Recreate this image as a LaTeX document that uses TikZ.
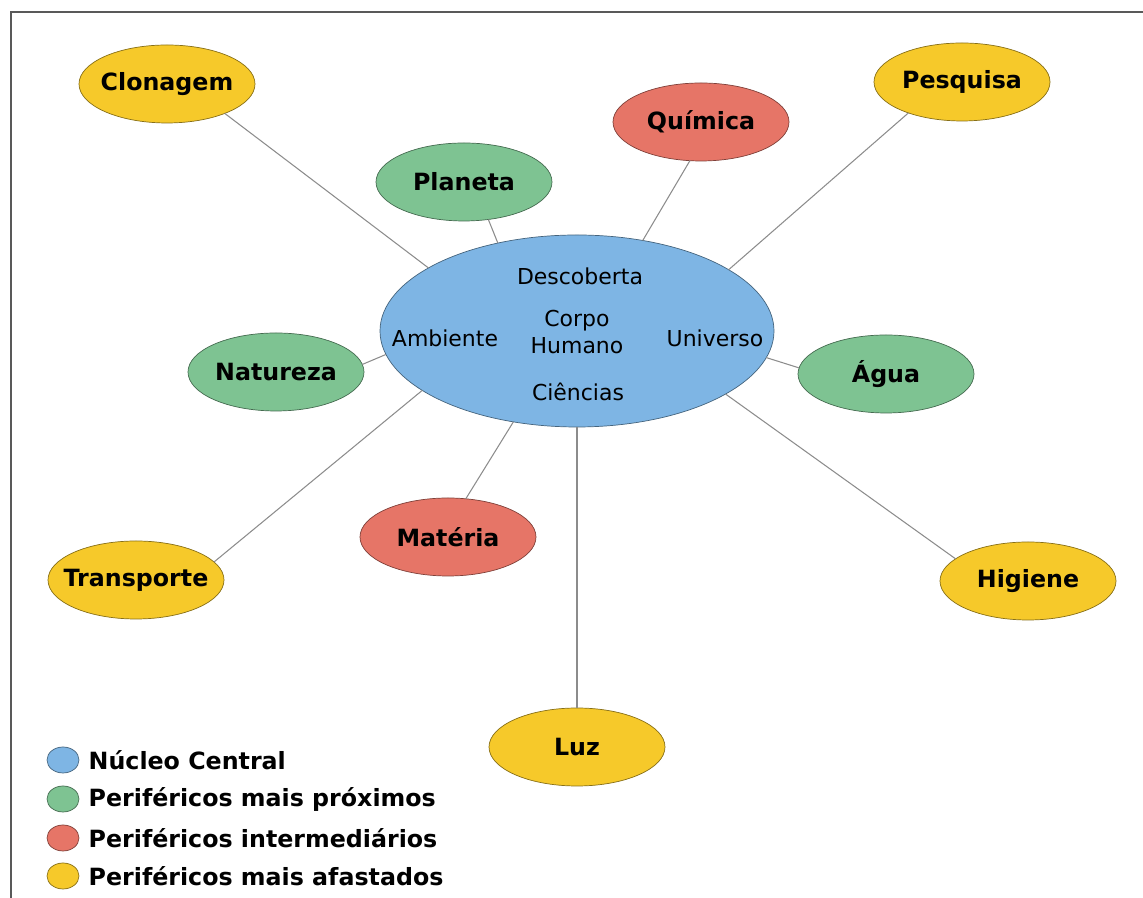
\documentclass[tikz,border=0pt]{standalone}
\usepackage{fontspec}
\setmainfont{DejaVu Sans}
\usepackage{tikz}
\usetikzlibrary{shapes,positioning}
\definecolor{nucleo}{RGB}{126,181,228}
\definecolor{proximo}{RGB}{126,195,146}
\definecolor{interm}{RGB}{230,117,103}
\definecolor{afast}{RGB}{246,201,42}
\newcommand{\lbfont}{\bfseries\fontsize{13.5}{16}\selectfont}
\newcommand{\cofont}{\fontsize{12.5}{15}\selectfont}

\begin{document}
\begin{tikzpicture}[
perif/.style={ellipse, draw=#1!55!black, fill=#1, minimum width=3.52cm, minimum height=1.56cm, inner sep=0pt, outer sep=0pt},
every label/.style={font=\lbfont, inner sep=0pt},
link/.style={draw=black!45, line width=0.6pt},
coretxt/.style={font=\cofont, inner sep=0pt, align=center},
legdot/.style={ellipse, draw=#1!55!black, fill=#1, minimum width=0.64cm, minimum height=0.52cm, inner sep=0pt},
legtxt/.style={font=\lbfont, inner sep=0pt}
]
\useasboundingbox (0,0) rectangle (22.86,17.96);

% frame
\draw [black!65, line width=0.8pt] (0.22,0) -- (0.22,17.72) -- (22.86,17.72);

% central core
\node [ellipse, draw=nucleo!55!black, fill=nucleo, minimum width=7.88cm, minimum height=3.84cm, inner sep=0pt, outer sep=0pt] (core) at (11.54,11.34) {};
\node [coretxt] (desc) at (11.60,12.44) {Descoberta};
\node [coretxt] (corpo) at (11.54,11.32) {Corpo\\Humano};
\node [coretxt] (amb) at (8.90,11.20) {Ambiente};
\node [coretxt] (univ) at (14.30,11.20) {Universo};
\node [coretxt] (cien) at (11.56,10.12) {Ciências};

% peripheral nodes
\node [perif=afast, label=center:Clonagem] (clon) at (3.34,16.28) {};
\node [perif=afast, label=center:Pesquisa] (pesq) at (19.24,16.32) {};
\node [perif=interm, label=center:Química] (quim) at (14.02,15.52) {};
\node [perif=proximo, label=center:Planeta] (plan) at (9.28,14.32) {};
\node [perif=proximo, label=center:Natureza] (natu) at (5.52,10.52) {};
\node [perif=proximo, label=center:Água] (agua) at (17.72,10.48) {};
\node [perif=interm, label=center:Matéria] (mate) at (8.96,7.22) {};
\node [perif=afast, label=center:Transporte] (transp) at (2.72,6.36) {};
\node [perif=afast, label=center:Higiene] (higi) at (20.56,6.34) {};
\node [perif=afast, label=center:Luz] (luz) at (11.54,3.02) {};

% links
\draw [link] (clon.-27.7) -- (core.157.9);
\draw [link] (pesq.-150) -- (core.22.4);
\draw [link] (quim.254.6) -- (core.54.5);
\draw [link] (plan.-57.7) -- (core.132);
\draw [link] (natu.5.4) -- (core.187.2);
\draw [link] (agua.176) -- (core.-8.2);
\draw [link] (transp.13.7) -- (core.201.5);
\draw [link] (mate.65.2) -- (core.235.3);
\draw [link] (luz.north) -- (core.south);
\draw [link] (higi.163) -- (core.-23);

% legend
\node [legdot=nucleo] (dot1) at (1.26,2.76) {};
\node [legtxt, right=0.18cm of dot1] (leg1) {Núcleo Central};
\node [legdot=proximo] (dot2) at (1.26,1.98) {};
\node [legtxt, right=0.18cm of dot2] (leg2) {Periféricos mais próximos};
\node [legdot=interm] (dot3) at (1.26,1.20) {};
\node [legtxt, right=0.18cm of dot3] (leg3) {Periféricos intermediários};
\node [legdot=afast] (dot4) at (1.26,0.44) {};
\node [legtxt, right=0.18cm of dot4] (leg4) {Periféricos mais afastados};
\end{tikzpicture}
\end{document}
